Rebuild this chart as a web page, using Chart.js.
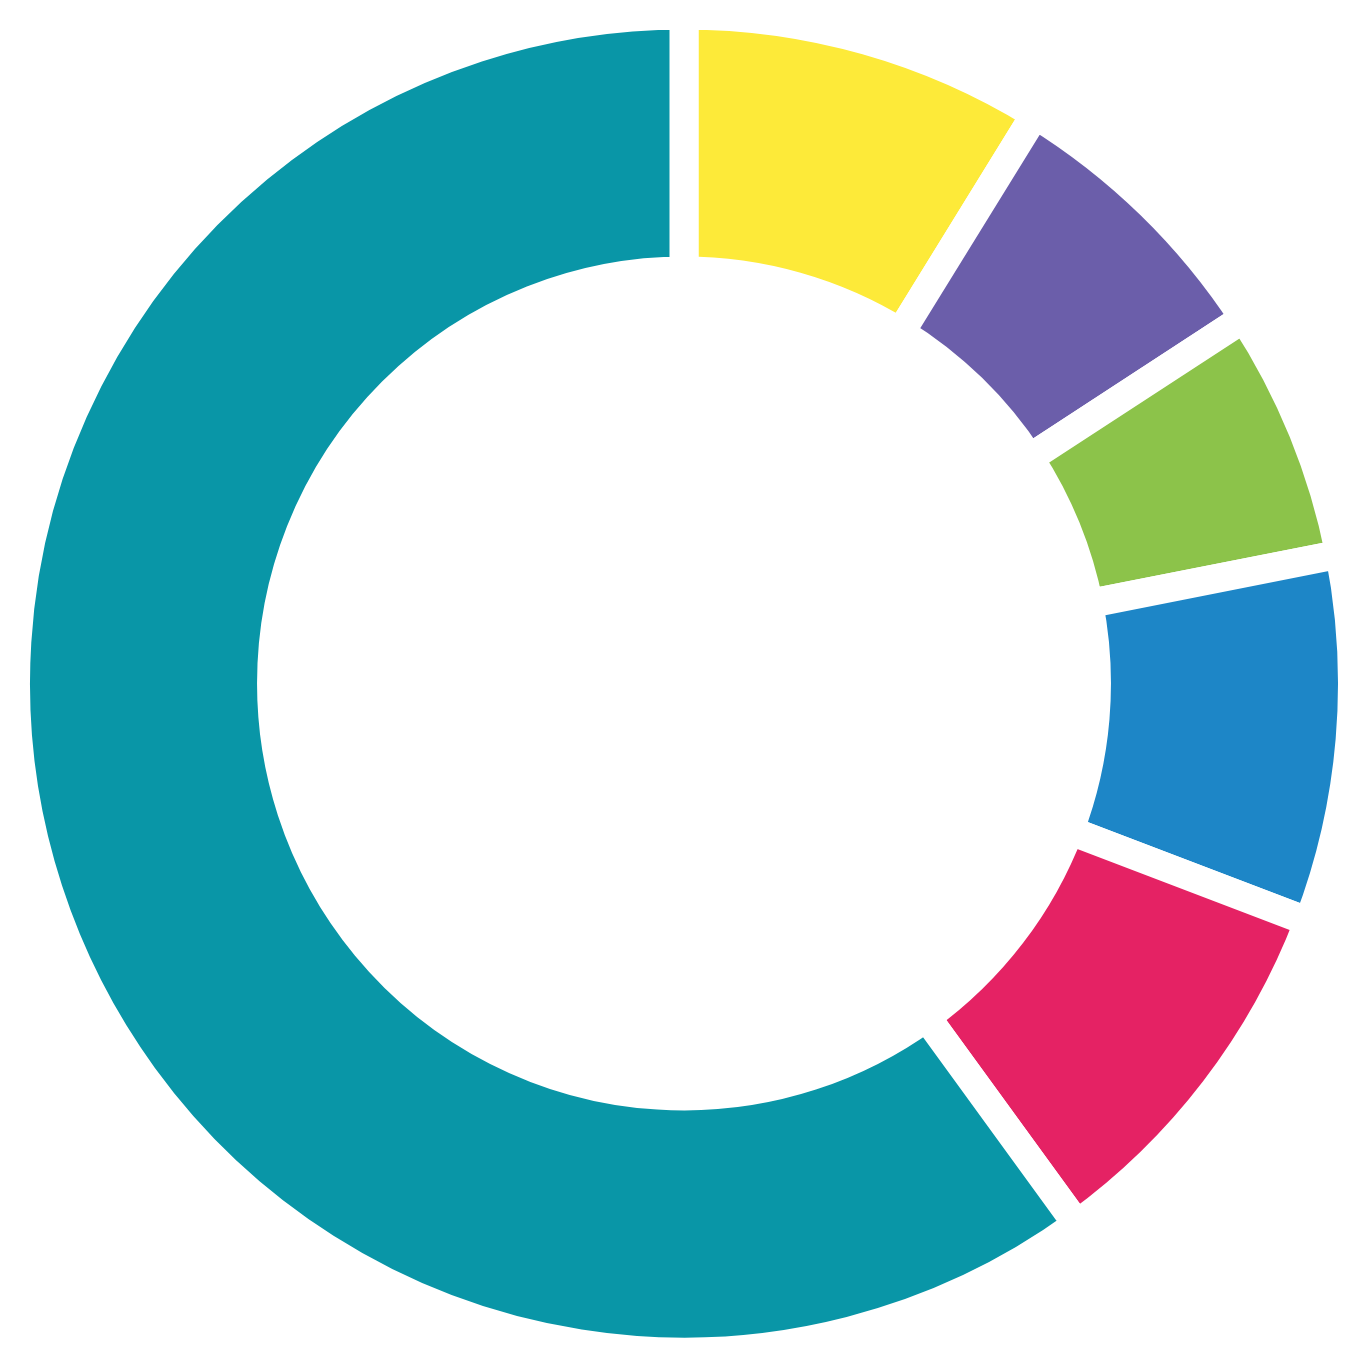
<!DOCTYPE html>
<html lang="en">
<head>
    <meta charset="UTF-8">
    <title>Doughnut</title>
    <script src="https://cdn.jsdelivr.net/npm/chart.js"></script>
    <style>
        html, body { margin: 0; padding: 0; background: #fff; }
        .chart-box { width: 1368px; height: 1367px; }
    </style>
</head>
<body>
    <div class="chart-box">
        <canvas id="myChart"></canvas>
    </div>

<script>
// segments clockwise from 12 o'clock
const labels = ['Segment 1', 'Segment 2', 'Segment 3', 'Segment 4', 'Segment 5', 'Segment 6'];
const valores = [8.8, 7.0, 6.1, 8.9, 9.2, 60.0];
const cores = ['#FDEA39', '#6B5EAA', '#8CC34A', '#1D86C7', '#E52264', '#0996A7'];

function gerarGrafico() {
    const ctx = document.getElementById('myChart').getContext('2d');
    new Chart(ctx, {
        type: 'doughnut',
        data: {
            labels: labels,
            datasets: [{
                data: valores,
                backgroundColor: cores,
                borderColor: '#ffffff',
                borderWidth: 29,
                hoverOffset: 0
            }]
        },
        options: {
            responsive: true,
            maintainAspectRatio: false,
            animation: false,
            radius: 668.5,
            cutout: '61.7%',
            plugins: {
                legend: { display: false },
                tooltip: { enabled: false }
            }
        }
    });
}

window.onload = function () {
    gerarGrafico();
};
</script>
</body>
</html>
